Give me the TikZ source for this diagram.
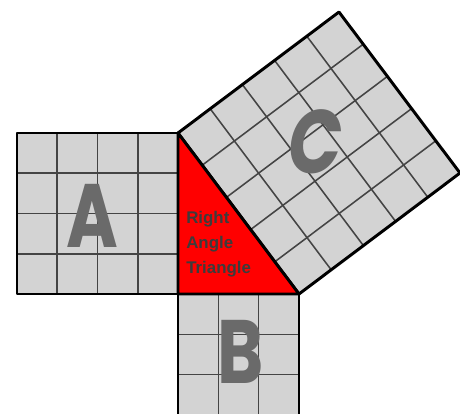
\documentclass[tikz,border=0pt]{standalone}
\usepackage{fontspec}
\setmainfont{Poppins}
\newfontfamily\smallfont{Liberation Sans}
\usetikzlibrary{calc}
\definecolor{cellgray}{HTML}{D3D3D3}
\definecolor{gridgray}{HTML}{444444}
\definecolor{lettergray}{HTML}{6A6A6A}
\definecolor{textgray}{HTML}{3C3C3C}
\tikzset{
  cellfill/.style={fill=cellgray},
  gridline/.style={gridgray,line width=1.1pt},
  border/.style={draw=black,line width=2.1pt,line join=round},
  bigletter/.style={lettergray,xscale=0.78,font=\fontsize{64}{64}\selectfont\bfseries}
}
\begin{document}
\begin{tikzpicture}[x=0.025cm,y=-0.025cm]
  \useasboundingbox (0,0) rectangle (460,414);
  \clip (0,0) rectangle (460,414);
  %hjoerner af trekanten
  \coordinate (P) at (178,294);
  \coordinate (Q) at (178,133);
  \coordinate (R) at (299,294);

  %kvadrat A
  \coordinate (A1) at (17,133);
  \coordinate (A2) at (17,294);
  \fill[cellfill] (A1) rectangle (P);
  \foreach \i in {1,2,3}{
    \draw[gridline] ($(A1)!\i/4!(Q)$) -- ($(A2)!\i/4!(P)$);
    \draw[gridline] ($(A1)!\i/4!(A2)$) -- ($(Q)!\i/4!(P)$);
  }
  \draw[border] (A1) rectangle (P);

  %kvadrat B
  \coordinate (B1) at ($(P)+(0,121)$);
  \coordinate (B2) at ($(R)+(0,121)$);
  \fill[cellfill] (P) rectangle (B2);
  \foreach \i in {1,2}{
    \draw[gridline] ($(P)!\i/3!(R)$) -- ($(B1)!\i/3!(B2)$);
    \draw[gridline] ($(P)!\i/3!(B1)$) -- ($(R)!\i/3!(B2)$);
  }
  \draw[border] (P) rectangle (B2);

  %kvadrat C
  \coordinate (C1) at ($(Q)!1!90:(R)$);
  \coordinate (C2) at ($(R)!1!-90:(Q)$);
  \fill[cellfill] (Q) -- (R) -- (C2) -- (C1) -- cycle;
  \foreach \i in {1,...,4}{
    \draw[gridline] ($(Q)!\i/5!(R)$) -- ($(C1)!\i/5!(C2)$);
    \draw[gridline] ($(Q)!\i/5!(C1)$) -- ($(R)!\i/5!(C2)$);
  }
  \draw[border] (Q) -- (R) -- (C2) -- (C1) -- cycle;

  %trekanten
  \filldraw[border,fill=red] (P) -- (Q) -- (R) -- cycle;

  %bogstaver
  \node[bigletter] (la) at (92,216) {A};
  \node[bigletter] (lb) at (241,352) {B};
  \node[bigletter,xslant=0.2] (lc) at (316,142) {C};
  \node[textgray,font=\smallfont\bfseries\fontsize{12}{17.8}\selectfont,align=left,anchor=north west,inner sep=0pt] (rat) at (186,211) {Right\\Angle\\Triangle};
\end{tikzpicture}
\end{document}
